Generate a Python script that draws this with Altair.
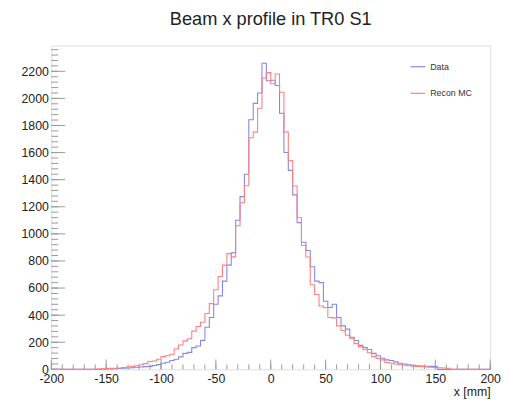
import altair as alt
import pandas as pd

title_text = "Beam x profile in TR0 S1"
x_title = "x [mm]"
series_names = ["Data", "Recon MC"]
series_colors = ["#8787e8", "#ff8080"]

x_min, x_max, bin_width = -200, 200, 4
first_bin = -160  # left edge of the first listed bin

# Data histogram, bins from -160 upward (4 mm wide)
data_counts = [0, 1, 2, 3, 5, 6, 8, 10, 12, 15,
               17, 20, 22, 28, 35, 45, 52, 65, 75, 92,
               118, 125, 160, 172, 214, 311, 383, 480, 542, 651,
               769, 860, 1100, 1275, 1440, 1843, 1963, 2040, 2260, 2130,
               2134, 2095, 1890, 1601, 1469, 1288, 1083, 938, 877, 757,
               651, 640, 503, 456, 480, 383, 321, 297, 237, 213,
               177, 160, 147, 118, 100, 82, 70, 65, 55, 45,
               40, 34, 30, 27, 25, 22, 22, 20]
# Recon MC histogram, bins from -160 upward
mc_counts = [2, 4, 5, 7, 8, 10, 13, 17, 22, 27,
             34, 42, 58, 62, 75, 94, 100, 111, 150, 180,
             210, 226, 282, 316, 347, 412, 485, 588, 685, 769,
             854, 830, 1060, 1230, 1355, 1710, 1751, 1927, 2151, 2190,
             2108, 2180, 2045, 1751, 1541, 1353, 1119, 914, 829, 624,
             552, 468, 456, 383, 380, 321, 287, 251, 226, 190,
             166, 145, 123, 94, 80, 70, 51, 45, 40, 34,
             30, 27, 24, 22, 20, 18, 16, 14, 12, 10, 8]

x_label_values = list(range(-200, 201, 50))
x_minor_values = list(range(-200, 201, 10))
y_label_values = list(range(0, 2201, 200))
y_minor_values = list(range(0, 2390, 40))
y_max = 2390

n_bins = (x_max - x_min) // bin_width
offset = (first_bin - x_min) // bin_width


def full(counts):
    arr = [0] * n_bins
    for i, c in enumerate(counts):
        arr[offset + i] = c
    return arr


rows = []
for name, counts in zip(series_names, [data_counts, mc_counts]):
    arr = full(counts)
    for i, c in enumerate(arr):
        rows.append({"x": x_min + i * bin_width, "count": c, "series": name})
    rows.append({"x": x_max, "count": arr[-1], "series": name})
df = pd.DataFrame(rows)

W, H = 446, 329
FONT = "Liberation Sans"

xscale = alt.Scale(domain=[x_min, x_max], nice=False, zero=False)
yscale = alt.Scale(domain=[0, y_max], nice=False)

xaxis = alt.Axis(values=x_label_values, title=x_title, domain=False, ticks=False, grid=False,
                 labelFont=FONT, labelFontSize=12.5, labelColor="#222", labelPadding=3,
                 labelOverlap=False, labelFlush=False, labelExpr="toString(datum.value)",
                 titleFont=FONT, titleFontSize=12.5, titleFontWeight="normal", titleColor="#222",
                 titleAnchor="end", titleAlign="right", titleX=W, titleY=17,
                 titleBaseline="top")
yaxis = alt.Axis(values=y_label_values, title=None, domain=False, ticks=False, grid=False,
                 format="d",
                 labelFont=FONT, labelFontSize=12.5, labelColor="#222", labelPadding=3,
                 labelOverlap=False, labelFlush=False)

hist = alt.Chart(df).mark_line(interpolate="step-after", strokeWidth=1.1).encode(
    x=alt.X("x:Q", scale=xscale, axis=xaxis),
    y=alt.Y("count:Q", scale=yscale, axis=yaxis),
    color=alt.Color("series:N", scale=alt.Scale(domain=series_names, range=series_colors),
                    legend=alt.Legend(title=None, orient="none", legendX=364, legendY=13,
                                      symbolType="stroke", symbolSize=225, symbolStrokeWidth=1.2,
                                      labelFont=FONT, labelFontSize=9, labelColor="#333",
                                      labelOffset=4, rowPadding=13)),
)

tick_color = "#999"
xmaj = alt.Chart(pd.DataFrame({"x": x_label_values})).mark_rule(color=tick_color, strokeWidth=1).encode(
    x=alt.X("x:Q", scale=xscale, axis=xaxis), y=alt.value(H), y2=alt.value(H - 10))
xmin_ = alt.Chart(pd.DataFrame({"x": x_minor_values})).mark_rule(color=tick_color, strokeWidth=1).encode(
    x=alt.X("x:Q", scale=xscale, axis=xaxis), y=alt.value(H), y2=alt.value(H - 5))
ymaj = alt.Chart(pd.DataFrame({"count": y_label_values})).mark_rule(color=tick_color, strokeWidth=1).encode(
    y=alt.Y("count:Q", scale=yscale, axis=yaxis), x=alt.value(0), x2=alt.value(14))
ymin_ = alt.Chart(pd.DataFrame({"count": y_minor_values})).mark_rule(color=tick_color, strokeWidth=1).encode(
    y=alt.Y("count:Q", scale=yscale, axis=yaxis), x=alt.value(0), x2=alt.value(7))

chart = alt.layer(xmin_, xmaj, ymin_, ymaj, hist).properties(
    width=W, height=H,
    title=alt.TitleParams(title_text, font=FONT, fontSize=18.5, fontWeight="normal", color="#222",
                          anchor="middle", offset=18, baseline="alphabetic", dy=16),
    autosize=alt.AutoSizeParams(type="none"),
    padding={"left": 44, "top": 35, "right": 13, "bottom": 29},
).configure_view(stroke="#888", strokeWidth=1).configure(background="white")

chart.save("out.html", embed_options={"renderer": "svg", "actions": False})
